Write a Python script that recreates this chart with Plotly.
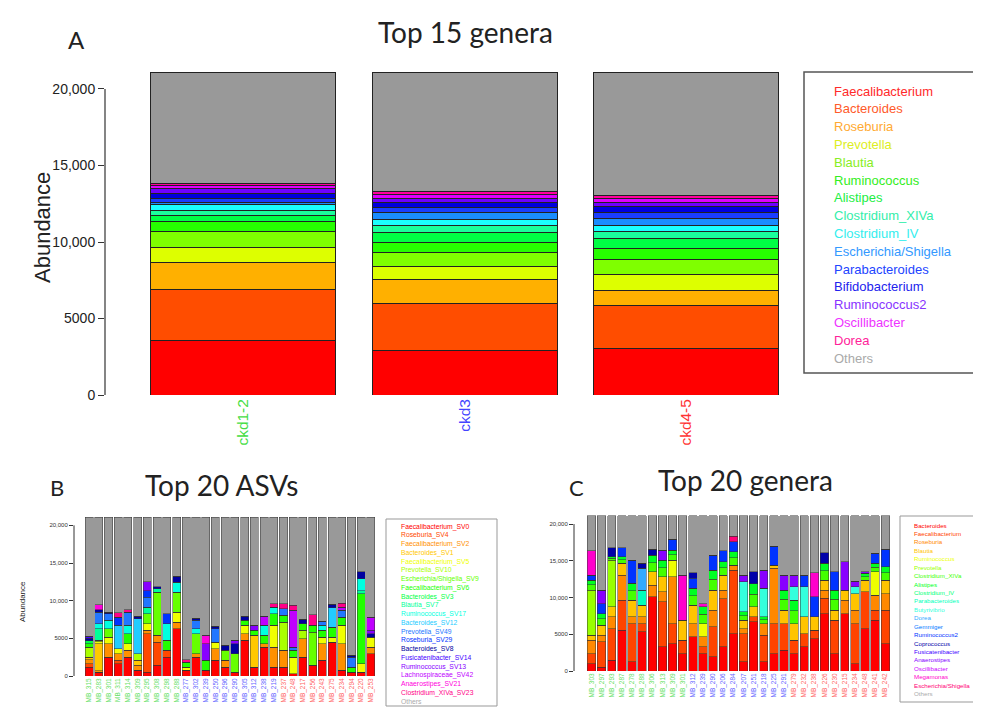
import plotly.graph_objects as go

# The page body has an 8px margin, so the figure is offset by 8px in the window.
OFF = 8
W, H = 981 - OFF, 713 - OFF

# ---------------- Panel A data ----------------
A_SAMPLES = ["ckd1-2", "ckd3", "ckd4-5"]
A_TAXA = ["Faecalibacterium", "Bacteroides", "Roseburia", "Prevotella", "Blautia",
          "Ruminococcus", "Alistipes", "Clostridium_XIVa", "Clostridium_IV",
          "Escherichia/Shigella", "Parabacteroides", "Bifidobacterium",
          "Ruminococcus2", "Oscillibacter", "Dorea", "Others"]
a_faecalibacterium = [3580, 2920, 3050]
a_bacteroides = [3290, 3070, 2800]
a_roseburia = [1790, 1570, 950]
a_prevotella = [1000, 830, 1100]
a_blautia = [1020, 920, 950]
a_ruminococcus = [630, 650, 700]
a_alistipes = [390, 650, 650]
a_clostridium_xiva = [370, 480, 500]
a_clostridium_iv = [390, 350, 400]
a_escherichia = [100, 480, 450]
a_parabacteroides = [260, 330, 400]
a_bifidobacterium = [350, 330, 350]
a_ruminococcus2 = [300, 280, 300]
a_oscillibacter = [220, 260, 250]
a_dorea = [130, 170, 200]
a_others = [7280, 7810, 8050]
A_SERIES = [a_faecalibacterium, a_bacteroides, a_roseburia, a_prevotella, a_blautia,
            a_ruminococcus, a_alistipes, a_clostridium_xiva, a_clostridium_iv,
            a_escherichia, a_parabacteroides, a_bifidobacterium, a_ruminococcus2,
            a_oscillibacter, a_dorea, a_others]

# ---------------- Panel B data ----------------
B_SAMPLES = ["MB_315", "MB_283", "MB_301", "MB_311", "MB_314", "MB_309", "MB_295", "MB_308",
             "MB_298", "MB_288", "MB_277", "MB_302", "MB_239", "MB_250", "MB_296", "MB_290",
             "MB_305", "MB_312", "MB_238", "MB_219", "MB_237", "MB_248", "MB_217", "MB_256",
             "MB_243", "MB_275", "MB_234", "MB_294", "MB_220", "MB_253"]
B_TAXA = ["Faecalibacterium_SV0", "Roseburia_SV4", "Faecalibacterium_SV2", "Bacteroides_SV1",
          "Faecalibacterium_SV5", "Prevotella_SV10", "Escherichia/Shigella_SV9",
          "Faecalibacterium_SV6", "Bacteroides_SV3", "Blautia_SV7", "Ruminococcus_SV17",
          "Bacteroides_SV12", "Prevotella_SV49", "Roseburia_SV29", "Bacteroides_SV8",
          "Fusicatenibacter_SV14", "Ruminococcus_SV13", "Lachnospiraceae_SV42",
          "Anaerostipes_SV21", "Clostridium_XIVa_SV23", "Others"]
b_sv0 = [1190, 530, 2520, 1640, 2520, 750, 530, 1410, 2520, 6280, 750, 2520, 750, 2080, 1190,
         530, 4730, 1190, 3850, 1190, 1190, 310, 2520, 1410, 2080, 4510, 750, 530, 530, 2960]
b_sv4 = [440, 0, 0, 440, 0, 0, 5080, 3090, 880, 0, 0, 0, 0, 0, 0,
         0, 0, 0, 0, 0, 0, 0, 0, 0, 0, 0, 0, 0, 0, 0]
b_sv2 = [500, 200, 1770, 880, 880, 660, 440, 880, 0, 880, 0, 440, 0, 1550, 880,
         0, 880, 0, 440, 2650, 2210, 0, 2430, 0, 2210, 0, 3540, 0, 0, 880]
b_sv1 = [380, 3540, 0, 0, 0, 660, 0, 0, 0, 0, 0, 0, 0, 0, 0,
         0, 0, 4200, 0, 0, 0, 0, 0, 0, 0, 0, 0, 0, 0, 0]
b_sv5 = [0, 300, 880, 660, 880, 0, 880, 0, 0, 1330, 440, 0, 0, 880, 0,
         0, 1100, 0, 0, 2870, 0, 2210, 0, 0, 880, 660, 2430, 0, 1100, 1330]
b_sv10 = [1300, 150, 0, 0, 0, 880, 0, 0, 0, 0, 0, 0, 0, 0, 0,
          0, 0, 0, 0, 0, 3760, 0, 1100, 0, 0, 0, 0, 0, 0, 0]
b_sv9 = [0, 0, 1100, 0, 0, 0, 1330, 5750, 0, 2650, 0, 2650, 0, 0, 1330,
         2430, 0, 0, 0, 0, 0, 0, 0, 4420, 0, 0, 0, 0, 0, 0]
b_sv6 = [500, 0, 0, 0, 1330, 0, 0, 0, 1330, 0, 660, 0, 1330, 0, 0,
         0, 660, 660, 1100, 1550, 880, 880, 880, 880, 880, 1330, 1100, 660, 9280, 0]
b_sv3 = [380, 0, 0, 0, 0, 0, 0, 0, 0, 0, 0, 0, 0, 0, 0,
         0, 0, 0, 0, 0, 0, 0, 0, 0, 0, 0, 0, 0, 0, 0]
b_sv7 = [0, 1550, 0, 0, 0, 0, 880, 440, 0, 0, 0, 0, 0, 0, 0,
         0, 0, 0, 0, 0, 0, 0, 0, 0, 0, 0, 0, 0, 440, 0]
b_sv17 = [0, 660, 1100, 0, 1100, 0, 0, 0, 2210, 1330, 0, 660, 0, 0, 0,
          0, 0, 0, 1330, 880, 0, 0, 0, 0, 660, 0, 0, 0, 1550, 0]
b_sv12 = [0, 0, 0, 3100, 0, 4640, 0, 0, 0, 0, 0, 0, 0, 0, 0,
          0, 0, 0, 0, 0, 0, 0, 0, 0, 0, 2560, 0, 0, 0, 0]
b_sv49 = [0, 1550, 880, 0, 1770, 0, 1330, 0, 0, 0, 0, 1100, 0, 1770, 0,
          0, 0, 0, 0, 0, 880, 440, 0, 0, 530, 0, 880, 1330, 0, 0]
b_sv29 = [0, 0, 0, 1100, 0, 0, 880, 0, 1330, 0, 0, 0, 0, 0, 0,
          0, 0, 0, 0, 0, 0, 0, 0, 0, 0, 0, 0, 0, 0, 0]
b_sv8 = [300, 300, 240, 0, 0, 310, 0, 310, 0, 750, 0, 310, 0, 310, 660,
         1330, 530, 0, 0, 0, 0, 0, 620, 0, 0, 440, 0, 220, 970, 440]
b_sv14 = [300, 0, 0, 0, 0, 0, 0, 0, 0, 0, 0, 0, 0, 0, 0,
          0, 0, 0, 0, 0, 0, 0, 0, 0, 0, 0, 0, 0, 0, 0]
b_sv13 = [0, 0, 0, 0, 0, 0, 1190, 0, 0, 0, 0, 0, 2210, 0, 0,
          440, 0, 660, 0, 0, 0, 0, 0, 0, 0, 0, 0, 0, 0, 440]
b_sv42 = [0, 0, 0, 0, 0, 0, 0, 0, 0, 0, 0, 0, 0, 0, 0,
          0, 0, 0, 1190, 0, 0, 4860, 0, 0, 0, 0, 440, 0, 0, 1770]
b_sv21 = [0, 660, 0, 0, 0, 0, 0, 0, 0, 0, 0, 0, 1100, 0, 0,
          0, 0, 0, 0, 0, 0, 0, 0, 0, 0, 0, 0, 0, 0, 0]
b_sv23 = [0, 0, 0, 570, 300, 0, 0, 0, 0, 0, 300, 0, 0, 0, 0,
          0, 0, 0, 0, 440, 660, 660, 0, 1410, 0, 0, 530, 0, 0, 0]
b_others = [15810, 11660, 12610, 12710, 12320, 13200, 8560, 9220, 12830, 7880, 18950, 13420,
            15710, 14510, 17040, 16370, 13200, 14390, 13190, 11520, 11520, 11740, 13550,
            12980, 13860, 11600, 11430, 18360, 7230, 13280]
B_SERIES = [b_sv0, b_sv4, b_sv2, b_sv1, b_sv5, b_sv10, b_sv9, b_sv6, b_sv3, b_sv7, b_sv17,
            b_sv12, b_sv49, b_sv29, b_sv8, b_sv14, b_sv13, b_sv42, b_sv21, b_sv23, b_others]

# ---------------- Panel C data ----------------
C_SAMPLES = ["MB_303", "MB_297", "MB_293", "MB_287", "MB_278", "MB_288", "MB_306", "MB_313",
             "MB_309", "MB_301", "MB_312", "MB_239", "MB_290", "MB_206", "MB_284", "MB_207",
             "MB_251", "MB_218", "MB_225", "MB_291", "MB_279", "MB_232", "MB_238", "MB_226",
             "MB_230", "MB_215", "MB_234", "MB_248", "MB_241", "MB_242"]
C_TAXA = ["Bacteroides", "Faecalibacterium", "Roseburia", "Blautia", "Ruminococcus",
          "Prevotella", "Clostridium_XIVa", "Alistipes", "Clostridium_IV", "Parabacteroides",
          "Butyrivibrio", "Dorea", "Gemmiger", "Ruminococcus2", "Coprococcus",
          "Fusicatenibacter", "Anaerostipes", "Oscillibacter", "Megamonas",
          "Escherichia/Shigella", "Others"]
c_bacteroides = [1000, 545, 1450, 5545, 1230, 5320, 10090, 3270, 3730, 2360, 4640, 2360, 1910,
                 3270, 5090, 1230, 6680, 1230, 2360, 2820, 2360, 3270, 4410, 7820, 2360, 7820,
                 1000, 5770, 6910, 3730]
c_faecalibacterium = [1360, 3410, 4320, 4090, 5230, 1140, 0, 6140, 2730, 1820, 0, 910, 4090,
                      6590, 8640, 3860, 680, 3640, 4090, 3640, 1820, 1820, 1140, 2050, 4545, 0,
                      5450, 5000, 1360, 4545]
c_roseburia = [1820, 910, 1590, 3410, 910, 910, 1590, 1360, 6360, 0, 1820, 1360, 2270, 1140,
               680, 680, 0, 1590, 7500, 0, 0, 0, 0, 1140, 0, 1820, 1820, 0, 2050, 2270]
c_blautia = [680, 1360, 1360, 1590, 2270, 1590, 1820, 2050, 0, 2730, 2500, 0, 2730, 2050, 0,
             1140, 1360, 0, 450, 1820, 2270, 2270, 1820, 1360, 1360, 1360, 2270, 1590, 0, 1820]
c_ruminococcus = [0, 0, 0, 0, 0, 0, 0, 0, 2270, 0, 0, 1820, 0, 0, 0,
                  0, 0, 0, 0, 0, 0, 0, 0, 0, 0, 0, 0, 0, 3180, 0]
c_prevotella = [6140, 0, 6360, 0, 0, 0, 0, 0, 0, 0, 0, 0, 0, 0, 0,
                0, 0, 0, 0, 0, 0, 0, 0, 0, 0, 0, 0, 0, 0, 0]
c_clostridium_xiva = [750, 870, 250, 500, 1250, 0, 1250, 1250, 750, 0, 1250, 1250, 1500, 1000,
                      1000, 630, 1750, 500, 0, 1500, 1750, 0, 0, 1250, 1500, 0, 0, 500, 630, 1000]
c_alistipes = [610, 720, 200, 410, 1020, 0, 1020, 1020, 610, 0, 1020, 1020, 1230, 820, 820,
               510, 1430, 410, 0, 1230, 1430, 0, 0, 1020, 1230, 0, 0, 410, 510, 820]
c_clostridium_iv = [0, 0, 0, 0, 0, 0, 0, 0, 0, 0, 0, 0, 0, 0, 0,
                    0, 0, 0, 0, 0, 0, 0, 0, 0, 0, 0, 0, 0, 0, 0]
c_parabacteroides = [0, 0, 0, 0, 0, 2050, 0, 0, 0, 0, 0, 0, 0, 0, 0,
                     0, 0, 0, 0, 0, 0, 0, 0, 0, 0, 0, 0, 0, 0, 0]
c_butyrivibrio = [0, 0, 0, 0, 0, 0, 0, 0, 0, 0, 0, 0, 0, 0, 0,
                  4090, 0, 3860, 0, 0, 1820, 4090, 0, 0, 0, 0, 910, 0, 0, 0]
c_dorea = [0, 0, 0, 0, 0, 2950, 0, 0, 0, 0, 0, 0, 0, 0, 0,
           0, 0, 0, 0, 0, 0, 0, 0, 0, 0, 0, 0, 0, 0, 0]
c_gemmiger = [0, 0, 0, 0, 0, 0, 0, 0, 0, 0, 0, 0, 0, 0, 0,
              0, 0, 0, 0, 0, 0, 0, 0, 0, 0, 0, 0, 0, 0, 0]
c_ruminococcus2 = [680, 1360, 0, 1230, 3180, 0, 0, 0, 1450, 0, 1360, 0, 2050, 1500, 1360,
                   0, 0, 0, 2590, 0, 0, 1590, 2730, 0, 2500, 0, 0, 0, 1360, 2360]
c_coprococcus = [0, 0, 1230, 0, 0, 680, 770, 0, 0, 0, 770, 0, 0, 0, 0,
                 0, 1590, 0, 0, 0, 0, 0, 0, 1450, 0, 0, 0, 0, 0, 0]
c_fusicatenibacter = [0, 0, 0, 0, 0, 0, 0, 0, 0, 0, 0, 0, 0, 0, 0,
                      0, 0, 0, 0, 0, 0, 0, 0, 0, 0, 0, 0, 0, 0, 0]
c_anaerostipes = [0, 1820, 0, 0, 0, 0, 0, 1360, 0, 0, 0, 0, 0, 0, 0,
                  910, 0, 2500, 0, 2050, 1590, 0, 0, 0, 0, 3860, 770, 230, 0, 0]
c_oscillibacter = [0, 0, 0, 0, 0, 0, 0, 0, 0, 0, 0, 0, 0, 0, 0,
                   0, 0, 0, 0, 0, 0, 0, 0, 0, 0, 0, 0, 0, 0, 0]
c_megamonas = [3320, 0, 0, 0, 0, 0, 0, 0, 0, 6140, 0, 450, 0, 0, 0,
               0, 0, 0, 0, 0, 0, 0, 3270, 0, 0, 0, 0, 0, 0, 0]
c_escherichia = [0, 0, 0, 0, 0, 0, 0, 0, 0, 0, 0, 0, 0, 0, 770,
                 0, 0, 0, 0, 0, 0, 0, 0, 0, 0, 0, 0, 0, 0, 0]
c_others = [4740, 10105, 4340, 4325, 6010, 6460, 4560, 4650, 3200, 8050, 7740, 11930, 5320,
            4730, 2740, 8050, 7610, 7370, 4110, 8040, 8060, 8060, 7730, 5010, 7605, 6240,
            8880, 7600, 5100, 4555]
C_SERIES = [c_bacteroides, c_faecalibacterium, c_roseburia, c_blautia, c_ruminococcus,
            c_prevotella, c_clostridium_xiva, c_alistipes, c_clostridium_iv, c_parabacteroides,
            c_butyrivibrio, c_dorea, c_gemmiger, c_ruminococcus2, c_coprococcus,
            c_fusicatenibacter, c_anaerostipes, c_oscillibacter, c_megamonas, c_escherichia,
            c_others]

Y_TICKS = [0, 5000, 10000, 15000, 20000]
Y_TICK_TEXT = ["0", "5000", "10,000", "15,000", "20,000"]

# ---------------- styles ----------------
A_COLORS = ["#FF0000", "#FF4D00", "#FFB000", "#DDFF00", "#7FFF00", "#26FF00", "#00FF44",
            "#1AFF9C", "#1AFFFF", "#1A8CFF", "#1A3DFF", "#0000DD", "#7000FF", "#E000FF",
            "#FF00A0", "#999999"]
A_TEXT_COLORS = ["#FF2A2A", "#FF5A2A", "#FFAA33", "#DDEE22", "#88EE22", "#33EE22", "#22EE44",
                 "#33EEAA", "#33EEEE", "#3399FF", "#2244FF", "#2222EE", "#8833FF", "#EE33FF",
                 "#FF2299", "#AAAAAA"]
B_COLORS = ["#FF0000", "#FF4800", "#FF9000", "#FFC800", "#F0FF00", "#AAFF00", "#66FF00",
            "#22FF00", "#00FF44", "#00FF99", "#00FFE0", "#22CCFF", "#2277FF", "#0033FF",
            "#0000A0", "#4400FF", "#8800FF", "#C000FF", "#FF00DD", "#FF0088", "#999999"]
C_COLORS = ["#FF0000", "#FF4400", "#FF8800", "#FFC400", "#EEFF00", "#99FF00", "#44FF00",
            "#00FF22", "#00FF77", "#00FFBB", "#33FFDD", "#33AAFF", "#0077FF", "#0033FF",
            "#0000AA", "#4400FF", "#8800FF", "#CC00FF", "#FF00CC", "#FF0077", "#999999"]
GROUP_COLORS = ["#66E066", "#6666FF", "#FF6666"]
A_LABEL_COLORS = ["#44DD44", "#4444FF", "#FF3333"]

FONT = "Liberation Sans, Arial, sans-serif"
TITLE_FONT = "Lato, Liberation Sans, sans-serif"


def px(x):
    return (x - OFF) / W


def py(y):
    return 1 - (y - OFF) / H


fig = go.Figure()

for name, vals, col in zip(A_TAXA, A_SERIES, A_COLORS):
    fig.add_trace(go.Bar(x=A_SAMPLES, y=vals, name=name, width=0.835,
                         marker=dict(color=col, line=dict(color="#222222", width=1)),
                         xaxis="x", yaxis="y", showlegend=False))
for name, vals, col in zip(B_TAXA, B_SERIES, B_COLORS):
    fig.add_trace(go.Bar(x=B_SAMPLES, y=vals, name=name, width=0.83,
                         marker=dict(color=col, line=dict(color="#333333", width=0.5)),
                         xaxis="x2", yaxis="y2", showlegend=False))
for name, vals, col in zip(C_TAXA, C_SERIES, C_COLORS):
    fig.add_trace(go.Bar(x=C_SAMPLES, y=vals, name=name, width=0.83,
                         marker=dict(color=col, line=dict(color="#333333", width=0.5)),
                         xaxis="x3", yaxis="y3", showlegend=False))


def colored_ticks(samples, colors, per_group):
    out = []
    for i, s in enumerate(samples):
        c = colors[min(i // per_group, len(colors) - 1)]
        out.append(f'<span style="color:{c}">{s}</span>')
    return out


yaxis_common = dict(showgrid=False, zeroline=False, showline=False, ticks="outside",
                    tickcolor="#333333", tickvals=Y_TICKS, ticktext=Y_TICK_TEXT,
                    automargin=False)
xaxis_common = dict(showgrid=False, zeroline=False, showline=False, ticks="",
                    tickangle=-90, automargin=False)

fig.update_layout(
    width=W, height=H, barmode="stack", plot_bgcolor="white", paper_bgcolor="white",
    margin=dict(l=0, r=0, t=0, b=0, autoexpand=False), showlegend=False,
    xaxis=dict(domain=[px(105), px(795)], range=[-0.625, 2.49],
               tickvals=A_SAMPLES, ticktext=colored_ticks(A_SAMPLES, A_LABEL_COLORS, 1),
               tickfont=dict(family=FONT, size=15.5), anchor="y", **xaxis_common),
    yaxis=dict(domain=[py(395), py(60)], range=[0, 21895], ticklen=6,
               tickfont=dict(family=FONT, size=14, color="#222222"), anchor="x",
               **yaxis_common),
    xaxis2=dict(domain=[px(74), px(380)], range=[-1.55, 29.93],
                tickvals=B_SAMPLES, ticktext=colored_ticks(B_SAMPLES, GROUP_COLORS, 10),
                tickfont=dict(family=FONT, size=6.5), anchor="y2", **xaxis_common),
    yaxis2=dict(domain=[py(676), py(512)], range=[0, 21770], ticklen=4,
                tickfont=dict(family=FONT, size=6, color="#333333"), anchor="x2",
                **yaxis_common),
    xaxis3=dict(domain=[px(574), px(893)], range=[-1.73, 29.76],
                tickvals=C_SAMPLES, ticktext=colored_ticks(C_SAMPLES, GROUP_COLORS, 10),
                tickfont=dict(family=FONT, size=6.5), anchor="y3", **xaxis_common),
    yaxis3=dict(domain=[py(671), py(510)], range=[0, 21910], ticklen=4,
                tickfont=dict(family=FONT, size=6, color="#333333"), anchor="x3",
                **yaxis_common),
)

shapes = []
for xr, yr, w in (("x domain", "y", 1.2), ("x2 domain", "y2", 1), ("x3 domain", "y3", 1)):
    shapes.append(dict(type="line", xref=xr, yref=yr, x0=0, x1=0, y0=0, y1=20000,
                       line=dict(color="#333333", width=w)))
shapes.append(dict(type="rect", xref="paper", yref="paper", x0=px(804), x1=px(975),
                   y0=py(373), y1=py(72), line=dict(color="#555555", width=1.5)))
shapes.append(dict(type="rect", xref="paper", yref="paper", x0=px(386), x1=px(497),
                   y0=py(706), y1=py(519), line=dict(color="#999999", width=1)))
shapes.append(dict(type="rect", xref="paper", yref="paper", x0=px(900), x1=px(990),
                   y0=py(702), y1=py(516), line=dict(color="#999999", width=1)))

ann = []


def text(x, y, s, size, color="#222222", family=FONT, xanchor="center", angle=0):
    ann.append(dict(x=px(x), y=py(y), xref="paper", yref="paper", text=s, showarrow=False,
                    xanchor=xanchor, yanchor="middle", textangle=angle,
                    font=dict(family=family, size=size, color=color)))


text(76, 40, "A", 24, family=TITLE_FONT)
text(465, 32, "Top 15 genera", 28, family=TITLE_FONT)
text(57, 487, "B", 22, family=TITLE_FONT)
text(222, 485, "Top 20 ASVs", 28, family=TITLE_FONT)
text(576, 487, "C", 22, family=TITLE_FONT)
text(745, 480, "Top 20 genera", 28, family=TITLE_FONT)
text(42, 228, "Abundance", 22, angle=-90)
text(22, 602, "Abundance", 8, angle=-90)

for i, (name, col) in enumerate(zip(A_TAXA, A_TEXT_COLORS)):
    text(832, 91 + i * 17.8, name, 13, color=col, xanchor="left")
for i, (name, col) in enumerate(zip(B_TAXA, B_COLORS)):
    text(399, 526.5 + i * 8.75, name, 6.8, color=col if name != "Others" else "#AAAAAA",
         xanchor="left")
for i, (name, col) in enumerate(zip(C_TAXA, C_COLORS)):
    text(912, 525 + i * 8.43, name, 6.2, color=col if name != "Others" else "#AAAAAA",
         xanchor="left")

fig.update_layout(shapes=shapes, annotations=ann)
fig.write_html("out.html")
